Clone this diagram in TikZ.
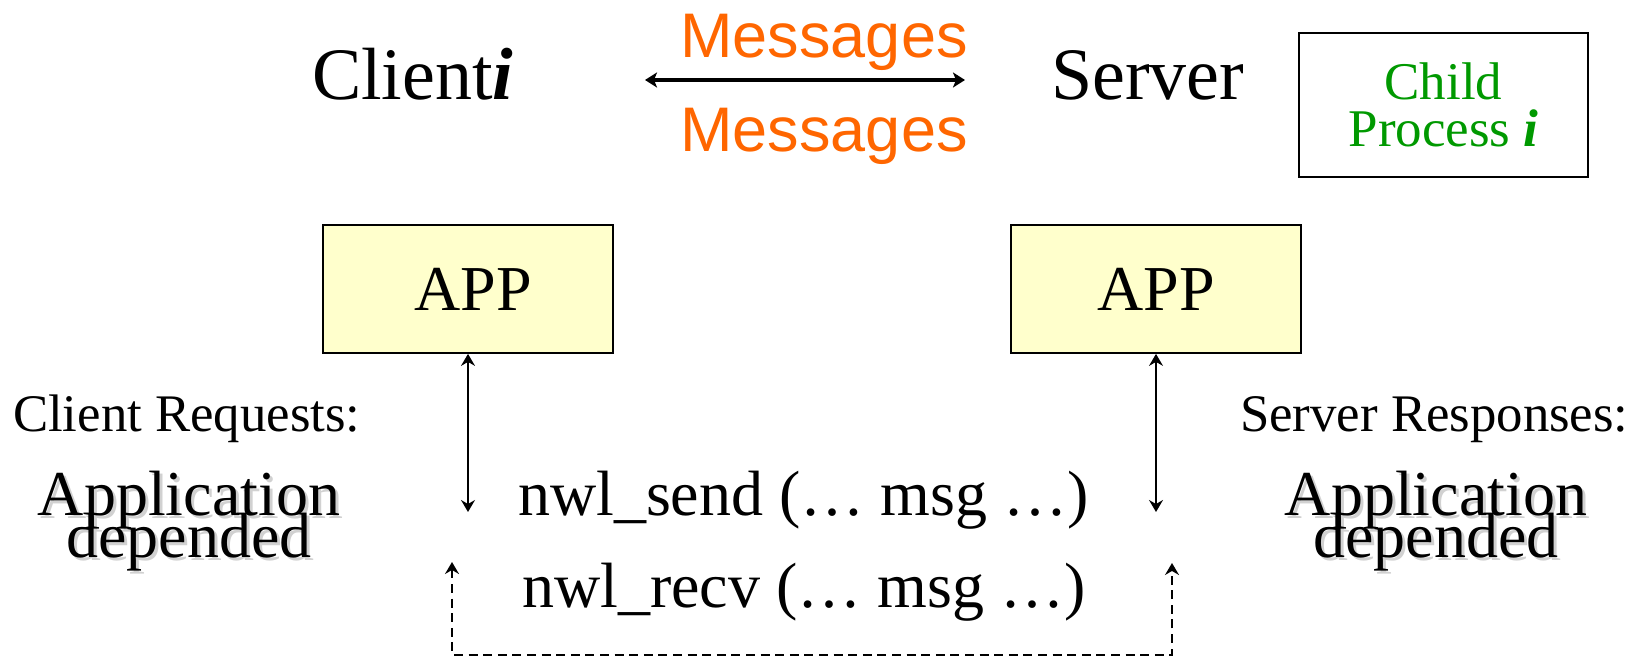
\documentclass[tikz,border=0pt]{standalone}
\usepackage{fontspec}
\setmainfont{Liberation Serif}
\newfontfamily\arialfont{Liberation Sans}
\usetikzlibrary{arrows.meta}
\definecolor{msgorange}{RGB}{255,102,0}
\definecolor{childgreen}{RGB}{0,153,0}
\definecolor{appfill}{RGB}{255,255,204}
% allow lines to be set closer than their glyph extents
\newcommand\tightlead{\lineskiplimit=-100pt\relax}
\begin{document}
\begin{tikzpicture}[x=0.5pt,y=-0.5pt,
  txt/.style={inner sep=0pt, outer sep=0pt},
  title/.style={txt, anchor=base west, font=\fontsize{37}{44}\selectfont},
  msgtext/.style={txt, anchor=base, text=msgorange, font=\arialfont\fontsize{31.5}{38}\selectfont},
  appbox/.style={draw, line width=0.9pt, fill=appfill, inner sep=0pt,
                 minimum width=145pt, minimum height=64pt, font=\fontsize{32}{38}\selectfont},
  childbox/.style={draw, line width=0.9pt, inner sep=0pt, align=center, text=childgreen,
                   minimum width=144.5pt, minimum height=72pt, font=\fontsize{26.5}{23.5}\selectfont},
  side/.style={txt, anchor=base west, font=\fontsize{26.4}{32}\selectfont},
  calltext/.style={txt, anchor=base west, font=\fontsize{32}{38}\selectfont},
  appdep/.style={txt, align=center, font=\fontsize{32}{21}\selectfont\tightlead},
  appshadow/.style={appdep, text=black!18},
  bigarrow/.style={line width=1.6pt, {Stealth[length=6pt,width=7.5pt,inset=1.5pt]}-{Stealth[length=6pt,width=7.5pt,inset=1.5pt]}},
  linkarrow/.style={line width=0.7pt, {Stealth[length=6pt,width=7pt,inset=2pt]}-{Stealth[length=6pt,width=7pt,inset=2pt]}},
  loopline/.style={line width=0.8pt, dash pattern=on 4.5pt off 2.8pt,
                   {Stealth[length=6pt,width=7pt,inset=2pt]}-{Stealth[length=6pt,width=7pt,inset=2pt]}}
]
\useasboundingbox (0,0) rectangle (1648,657);

% header row
\node[title] (client) at (312,100) {Client\textbf{\textit{i}}};
\node[title] (server) at (1051,100) {Server};
\node[msgtext] (msgtop) at (824,58) {Messages};
\node[msgtext] (msgbot) at (824,152) {Messages};
\coordinate (msgL) at (645,80);
\coordinate (msgR) at (965,80);
\draw[bigarrow] (msgL) -- (msgR);
\node[childbox] (child) at (1443.5,105) {Child\\Process \textbf{\textit{i}}};

% application boxes
\node[appbox] (appL) at (468,289) {\hspace*{5pt}APP};
\node[appbox] (appR) at (1156,289) {APP};

% send / receive calls
\coordinate (sendL) at (468,512);
\coordinate (sendR) at (1156,512);
\draw[linkarrow] (appL.south) -- (sendL);
\draw[linkarrow] (appR.south) -- (sendR);
\node[calltext] (send) at (518,515) {nwl\_send (… msg …)};
\node[calltext] (recv) at (522,607) {nwl\_recv (… msg …)};

\coordinate (recvL) at (452,562);
\coordinate (loopL) at (452,655);
\coordinate (loopR) at (1172,655);
\coordinate (recvR) at (1172,563);
\draw[loopline] (recvL) -- (loopL) -- (loopR) -- (recvR);

% side annotations
\node[side] (creq) at (13,431) {Client Requests:};
\node[side] (sresp) at (1240,431) {Server Responses:};
\node[appshadow] (cdepS) at (192,524) {Application\\depended};
\node[appdep] (cdep) at (189,521) {Application\\depended};
\node[appshadow] (sdepS) at (1439,524) {Application\\depended};
\node[appdep] (sdep) at (1436,521) {Application\\depended};
\end{tikzpicture}
\end{document}
